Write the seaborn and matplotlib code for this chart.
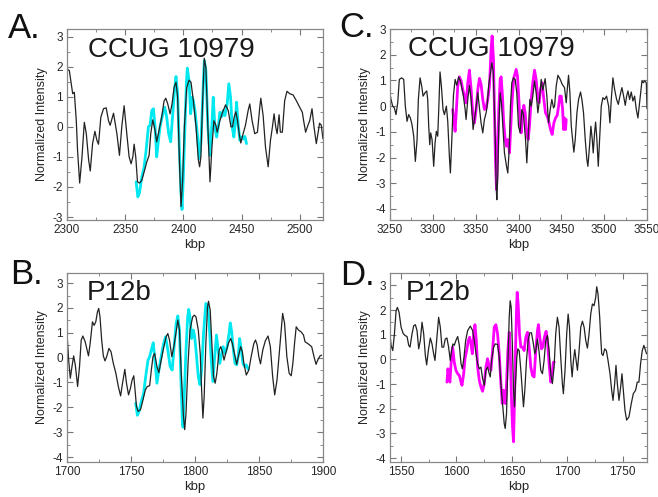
import matplotlib
matplotlib.use("Agg")
import matplotlib.pyplot as plt
from matplotlib.ticker import MultipleLocator
import seaborn as sns

# ---- panel A: CCUG 10979, 2300-2520 kbp (black) and overlay (cyan)
a_kbp = [2300.0, 2302.0, 2303.4, 2304.9, 2306.3, 2308.0, 2309.1, 2310.9, 2312.9, 2314.9,
         2316.6, 2318.6, 2320.0, 2322.0, 2324.0, 2325.7, 2327.1, 2329.1, 2331.4, 2333.7,
         2335.7, 2337.1, 2340.0, 2342.9, 2345.1, 2347.1, 2349.1, 2351.4, 2353.4, 2355.1,
         2356.6, 2357.7, 2359.1, 2360.6, 2362.3, 2364.3, 2366.3, 2368.6, 2370.6, 2372.0,
         2373.7, 2375.7, 2377.1, 2379.1, 2381.4, 2383.4, 2384.9, 2386.6, 2388.6, 2390.3,
         2392.0, 2393.7, 2395.1, 2396.6, 2398.0, 2399.4, 2400.9, 2402.9, 2404.9, 2406.6,
         2408.6, 2410.9, 2412.9, 2414.0, 2415.1, 2416.6, 2418.0, 2419.4, 2421.1, 2422.9,
         2424.6, 2426.3, 2428.0, 2429.1, 2431.4, 2433.7, 2436.3, 2438.6, 2440.9, 2442.3,
         2443.7, 2445.1, 2446.6, 2448.0, 2449.4, 2451.4, 2453.4, 2455.7, 2457.1, 2459.1,
         2461.4, 2463.7, 2465.7, 2466.6, 2468.6, 2470.6, 2472.9, 2474.9, 2476.6, 2478.0,
         2479.4, 2480.6, 2482.3, 2483.4, 2485.1, 2487.1, 2489.1, 2491.4, 2494.3, 2497.1,
         2500.0, 2502.3, 2503.4, 2505.1, 2507.1, 2508.6, 2510.6, 2512.3, 2514.3, 2515.7,
         2517.1, 2518.6, 2520.0]
a_norm = [1.92, 1.87, 1.5, 1.1, 1.15, 0.2, -0.8, -1.87, -1.0, 0.15,
          -0.23, -1.1, -1.47, -0.56, -0.15, -0.45, -0.58, 0.32, 0.6, 0.63,
          0.2, 0.05, 0.45, -0.23, -0.95, 0.0, 0.7, -0.23, -1.0, -1.23,
          -1.0, -0.58, -1.0, -1.83, -1.87, -1.78, -1.5, -1.17, -0.95, -0.23,
          0.23, -0.12, -0.5, -0.12, 0.32, 0.85, 0.95, 0.76, 0.43, 0.76,
          1.3, 1.48, 0.98, -1.1, -2.65, -1.78, 0.0, 1.3, 1.55, 1.48,
          0.87, 0.0, -1.1, -1.33, -1.0, 0.87, 2.28, 1.97, 0.0, -1.83,
          -0.67, 0.2, 0.05, -0.18, 0.2, 0.48, 0.73, 0.54, 0.0, 0.0,
          0.32, 0.5, 0.2, -0.23, -0.54, -0.23, 0.05, 0.54, 0.76, 0.2,
          -0.23, -0.18, 0.65, 0.95, 0.37, -0.67, -1.33, -0.45, 0.0, 0.43,
          0.0, -0.23, 0.4, -0.18, -0.18, 0.87, 1.18, 1.1, 1.06, 0.87,
          0.65, 0.48, 0.2, -0.18, 0.05, 0.2, 0.6, 0.0, -0.56, -0.23,
          0.12, 0.05, -0.4]
a_ovl_kbp = [2359.4, 2360.9, 2362.3, 2364.3, 2366.3, 2368.0, 2370.0, 2371.4, 2372.9, 2374.3,
             2375.7, 2377.1, 2378.6, 2380.0, 2382.0, 2384.0, 2385.7, 2387.4, 2389.1, 2390.9,
             2392.6, 2393.7, 2395.1, 2396.6, 2398.0, 2398.9, 2400.0, 2401.4, 2402.6, 2403.4,
             2404.9, 2406.3, 2407.7, 2408.6, 2410.0, 2412.0, 2413.7, 2415.1, 2416.6, 2418.0,
             2419.4, 2421.1, 2422.9, 2424.6, 2425.7, 2427.1, 2428.6, 2430.0, 2431.4, 2433.1,
             2434.3, 2435.7, 2437.7, 2439.1, 2440.6, 2442.0, 2443.4, 2444.9, 2445.7, 2447.1,
             2448.6, 2450.0, 2451.4, 2452.9, 2454.3]
a_ovl_norm = [-1.83, -2.33, -2.2, -1.67, -1.34, -0.78, 0.0, 0.05, 0.54, 0.6,
              0.0, -1.0, -0.45, 0.0, 0.37, 0.65, 0.32, -0.23, -0.5, 0.43,
              1.3, 1.67, 1.1, -0.78, -2.2, -2.75, -1.67, 0.0, 1.43, 1.95,
              1.54, 0.43, 0.98, 0.87, 0.54, -0.23, -1.06, -0.56, 0.87, 2.2,
              1.87, 0.0, -0.95, 0.1, 0.98, 0.0, -0.34, 0.0, 0.48, 0.34,
              0.54, 0.37, 0.76, 1.43, 0.98, 0.0, -0.34, 0.2, 0.82, 0.1,
              -0.45, -0.34, -0.4, -0.32, -0.56]

# ---- panel B: P12b, 1700-1900 kbp
b_kbp = [1700.0, 1701.3, 1702.6, 1703.9, 1705.2, 1706.5, 1708.3, 1709.8, 1711.1, 1712.4,
         1714.2, 1716.0, 1716.8, 1718.1, 1719.9, 1721.2, 1722.5, 1723.8, 1724.8, 1725.8,
         1727.1, 1728.4, 1729.7, 1731.0, 1732.8, 1734.4, 1736.2, 1738.2, 1740.1, 1741.9,
         1743.4, 1745.2, 1746.5, 1748.1, 1749.6, 1750.9, 1752.2, 1753.2, 1754.3, 1755.6,
         1757.4, 1759.4, 1761.2, 1762.8, 1764.6, 1765.9, 1767.2, 1768.5, 1770.3, 1771.8,
         1773.6, 1775.7, 1777.5, 1778.8, 1780.1, 1781.9, 1783.5, 1785.3, 1786.6, 1787.9,
         1789.4, 1791.0, 1792.0, 1793.0, 1794.6, 1796.1, 1798.2, 1799.5, 1800.8, 1802.6,
         1804.1, 1805.2, 1806.2, 1807.2, 1808.5, 1809.8, 1810.6, 1811.9, 1813.2, 1814.5,
         1815.8, 1817.1, 1818.9, 1820.2, 1821.4, 1822.7, 1824.0, 1826.1, 1827.9, 1829.2,
         1831.3, 1832.6, 1833.9, 1835.7, 1837.0, 1838.2, 1840.1, 1842.1, 1843.9, 1846.0,
         1847.3, 1848.6, 1849.9, 1851.2, 1853.0, 1855.0, 1857.1, 1858.9, 1860.7, 1862.3,
         1864.1, 1866.1, 1868.5, 1870.0, 1871.8, 1873.6, 1875.2, 1876.5, 1877.8, 1879.1,
         1880.9, 1882.9, 1884.8, 1886.0, 1888.6, 1891.2, 1893.0, 1894.6, 1895.9, 1897.7,
         1899.0]
b_norm = [1.0, -0.1, -0.83, -0.36, 0.07, -0.3, -1.16, -0.36, 0.7, 0.87,
          0.64, 0.24, 0.07, 0.57, 1.44, 1.3, 1.44, 1.84, 1.98, 1.64,
          0.71, 0.07, -0.13, 0.04, 0.37, 0.24, -0.23, -0.63, -1.16, -1.54,
          -1.03, -0.47, -1.03, -1.5, -1.23, -0.9, -0.73, -1.3, -1.96, -2.16,
          -2.1, -1.7, -1.3, -1.16, -1.13, -0.5, 0.04, 0.17, -0.36, -0.6,
          -0.1, 0.44, 0.84, 0.97, 0.71, 0.04, 0.44, 1.04, 1.51, 1.11,
          -0.76, -2.36, -2.9, -2.23, -0.23, 1.11, 1.64, 1.71, 1.64, 1.11,
          0.17, -1.3, -2.43, -1.56, 0.57, 2.04, 2.27, 1.91, 0.57, -0.76,
          -1.03, -0.63, 0.31, 0.44, 0.24, -0.1, 0.17, 0.57, 0.77, 0.57,
          0.04, -0.27, 0.04, 0.44, 0.24, -0.23, -0.7, -0.5, 0.04, 0.57,
          0.71, 0.51, 0.04, -0.25, 0.31, 0.68, 0.87, 0.44, -0.76, -1.5,
          -0.9, 0.31, 1.78, 1.38, 0.04, -0.63, -0.73, -0.23, 0.57, 1.24,
          1.11, 1.04, 0.91, 0.64, 0.55, 0.44, 0.04, -0.27, -0.1, 0.07,
          0.1]
b_ovl_kbp = [1753.7, 1755.0, 1756.3, 1758.1, 1759.9, 1761.5, 1763.3, 1764.6, 1765.9, 1767.4,
             1768.7, 1770.3, 1771.8, 1773.6, 1775.5, 1777.0, 1778.8, 1780.6, 1782.2, 1783.5,
             1785.3, 1786.6, 1787.9, 1789.1, 1790.2, 1790.7, 1791.7, 1793.0, 1794.3, 1795.1,
             1796.1, 1797.4, 1798.7, 1799.7, 1800.8, 1802.6, 1803.9, 1805.2, 1806.7, 1808.5,
             1809.8, 1811.1, 1812.7, 1814.0, 1815.2, 1816.8, 1818.1, 1819.4, 1820.9, 1822.0,
             1823.5, 1825.1, 1826.6, 1827.6, 1828.7, 1830.0, 1831.3, 1832.6, 1833.9, 1834.9,
             1836.2, 1837.5, 1838.8, 1840.1, 1841.6]
b_ovl_norm = [-1.83, -2.32, -2.16, -1.76, -1.43, -0.76, -0.1, 0.04, 0.31, 0.6,
              -0.1, -1.03, -0.5, 0.04, 0.57, 0.84, 0.31, -0.36, -0.5, 0.31,
              1.38, 1.68, 1.11, -1.03, -2.63, -2.8, -1.43, 0.31, 1.64, 1.94,
              1.64, 0.77, 1.11, 0.87, 0.31, -0.76, -1.09, -0.5, 0.97, 2.18,
              2.11, 1.38, -0.1, -0.96, -0.1, 0.91, 0.31, -0.23, 0.17, 0.44,
              0.17, 0.44, 0.97, 1.4, 1.04, 0.31, -0.23, -0.29, 0.1, 0.77,
              0.31, -0.23, -0.36, -0.29, -0.47]

# ---- panel C: CCUG 10979, 3250-3550 kbp (black) and overlay (magenta)
c_kbp = [3250.0, 3251.2, 3253.1, 3255.1, 3257.0, 3259.0, 3260.9, 3263.6, 3266.0, 3267.9,
         3269.9, 3271.8, 3273.8, 3275.7, 3277.7, 3279.6, 3281.6, 3283.1, 3285.1, 3287.0,
         3288.6, 3290.9, 3292.9, 3294.0, 3295.2, 3296.4, 3297.5, 3299.1, 3301.0, 3302.6,
         3304.1, 3305.7, 3306.9, 3308.4, 3310.0, 3311.9, 3313.5, 3315.8, 3317.4, 3319.3,
         3320.5, 3322.5, 3324.0, 3326.0, 3327.9, 3330.2, 3332.2, 3333.8, 3335.7, 3337.7,
         3338.8, 3340.8, 3342.7, 3344.7, 3347.0, 3348.6, 3350.5, 3352.5, 3354.4, 3356.3,
         3358.3, 3360.2, 3362.2, 3363.4, 3365.3, 3367.3, 3368.8, 3370.4, 3371.9, 3373.1,
         3373.9, 3374.7, 3375.8, 3377.0, 3378.6, 3380.1, 3381.7, 3383.6, 3386.0, 3387.5,
         3389.1, 3390.6, 3392.2, 3394.1, 3396.1, 3398.0, 3400.0, 3401.9, 3403.9, 3405.8,
         3408.2, 3409.7, 3411.3, 3413.2, 3414.8, 3416.7, 3418.7, 3420.6, 3422.6, 3424.5,
         3426.5, 3428.4, 3431.1, 3433.1, 3435.0, 3437.0, 3438.9, 3440.9, 3442.1, 3444.0,
         3446.0, 3448.7, 3451.0, 3453.7, 3455.7, 3456.9, 3458.4, 3460.0, 3461.6, 3463.5,
         3464.6, 3466.2, 3468.2, 3470.1, 3472.4, 3474.0, 3475.9, 3477.9, 3479.8, 3481.0,
         3482.9, 3484.5, 3486.1, 3487.2, 3488.8, 3490.0, 3491.5, 3493.1, 3494.6, 3496.6,
         3498.5, 3500.5, 3502.8, 3505.2, 3506.7, 3508.3, 3510.2, 3512.2, 3514.5, 3516.5,
         3518.4, 3520.7, 3522.7, 3524.6, 3526.2, 3527.8, 3529.7, 3531.6, 3533.6, 3535.5,
         3537.5, 3539.4, 3541.8, 3544.1, 3545.7, 3547.2, 3549.2, 3550.0]
c_norm = [0.49, 0.26, 0.0, -0.07, -0.33, 0.13, 1.04, 1.1, 1.04, 0.0,
          -0.59, -0.33, -0.46, -0.72, -1.17, -2.15, -1.3, 0.26, 1.1, 0.78,
          0.39, 0.52, 0.59, 0.26, -0.78, -1.5, -1.04, -1.3, -2.34, -1.43,
          -0.98, -1.17, -0.13, 1.33, 0.78, -0.13, -0.33, 0.0, -0.59, -1.95,
          -2.6, -1.04, 0.39, 1.04, 0.81, 1.14, 0.98, 0.72, 0.39, -0.13,
          -0.52, 0.26, 0.81, 0.26, -0.91, -0.52, 0.0, 0.52, -0.07, -0.65,
          -1.04, -0.52, -0.26, 0.0, 0.85, 1.3, 1.69, 1.37, -0.13, -1.56,
          -3.12, -3.64, -2.73, -0.78, 0.52, 0.13, -0.78, -1.82, -2.34, -2.6,
          -1.69, 0.0, 0.91, 1.1, 1.04, 0.52, -0.78, -1.04, -0.13, -0.33,
          -1.3, -2.21, -1.17, 0.26, 0.0, 0.39, 0.98, 0.52, -0.26, 0.26,
          1.04, 0.62, 1.07, 0.39, -0.65, -0.13, 0.26, -0.07, 0.0, 0.78,
          1.2, 1.04, 0.85, 0.72, 0.13, 0.65, 1.2, 0.52, -0.78, -1.43,
          -1.79, -1.3, -0.26, 0.26, 0.55, 0.26, -0.26, -1.3, -2.08, -2.34,
          -1.56, -0.78, -1.3, -1.82, -1.04, -0.62, -1.3, -2.34, -1.3, 0.0,
          0.33, 0.26, 0.39, 0.0, -0.65, 0.26, 1.1, 0.65, 0.26, 0.07,
          0.39, 0.72, 0.39, 0.03, 0.39, 0.59, 0.26, 0.55, 0.2, 0.39,
          -0.13, -0.46, 0.26, 0.98, 0.91, 0.98, 0.91, -0.1]
c_ovl_kbp = [3323.2, 3324.4, 3326.0, 3327.5, 3329.1, 3331.0, 3333.0, 3334.9, 3336.9, 3338.8,
             3340.8, 3342.7, 3344.7, 3346.6, 3348.6, 3350.5, 3352.5, 3354.4, 3356.3, 3358.3,
             3360.2, 3362.2, 3364.1, 3366.1, 3368.0, 3369.2, 3370.8, 3371.9, 3373.1, 3374.3,
             3375.4, 3377.0, 3378.6, 3379.7, 3381.3, 3382.5, 3384.4, 3386.0, 3387.1, 3388.7,
             3389.5, 3391.0, 3392.6, 3394.5, 3397.3, 3398.8, 3400.4, 3401.9, 3403.1, 3404.7,
             3406.2, 3407.8, 3409.7, 3411.3, 3412.8, 3414.8, 3416.7, 3418.7, 3420.6, 3422.6,
             3424.1, 3425.7, 3427.6, 3429.6, 3431.5, 3433.5, 3435.0, 3437.4, 3439.3, 3441.3,
             3443.2, 3445.2, 3446.8, 3448.3, 3449.9, 3451.5, 3452.6, 3453.7, 3454.9, 3455.7]
c_ovl_norm = [-0.13, -0.52, -0.98, -0.13, 0.78, 1.14, 0.98, 0.65, 0.39, 0.13,
              0.91, 1.4, 0.65, -0.26, -0.65, -0.13, 0.65, 1.08, 0.85, 0.26,
              -0.13, -0.07, 0.26, 0.78, 2.21, 2.73, 1.82, -0.13, -2.08, -3.25,
              -2.08, -0.13, 1.04, 1.14, 0.39, -0.52, -1.3, -1.56, -1.3, -1.56,
              -1.82, -0.78, 0.26, 1.1, 1.43, 1.17, 0.26, -0.65, -1.04, -0.39,
              0.03, -0.26, -1.1, -1.3, -0.78, 0.26, 0.91, 1.4, 1.04, 0.26,
              0.13, 0.65, 0.91, 0.26, -0.26, -0.39, -0.55, -0.91, -1.1, -0.65,
              -0.46, -0.36, 0.0, 0.39, 0.39, -0.13, -0.91, -0.46, -0.91, -0.52]

# ---- panel D: P12b, 1540-1772 kbp
d_kbp = [1540.1, 1541.0, 1542.5, 1544.0, 1545.5, 1546.7, 1548.2, 1550.0, 1551.8, 1553.6,
         1555.4, 1556.9, 1558.1, 1559.9, 1561.4, 1562.9, 1564.4, 1565.9, 1567.4, 1568.9,
         1570.4, 1571.9, 1573.1, 1574.6, 1576.4, 1577.9, 1579.4, 1580.6, 1582.1, 1583.9,
         1585.4, 1586.9, 1588.4, 1589.9, 1591.4, 1592.9, 1594.4, 1595.6, 1596.8, 1598.0,
         1599.5, 1601.1, 1602.6, 1604.1, 1605.3, 1606.8, 1608.3, 1610.1, 1612.5, 1614.6,
         1616.1, 1617.6, 1619.1, 1620.6, 1622.1, 1623.6, 1625.1, 1626.6, 1628.1, 1629.6,
         1630.5, 1631.7, 1633.5, 1635.0, 1637.1, 1638.6, 1640.1, 1641.6, 1643.1, 1644.0,
         1645.2, 1646.4, 1647.6, 1648.5, 1649.4, 1650.6, 1651.5, 1652.4, 1653.3, 1654.5,
         1655.4, 1656.6, 1658.1, 1659.6, 1660.5, 1661.7, 1663.2, 1664.7, 1666.2, 1667.7,
         1669.2, 1670.7, 1671.6, 1673.1, 1674.6, 1676.1, 1677.6, 1679.1, 1680.6, 1682.1,
         1683.6, 1685.1, 1686.6, 1688.1, 1689.6, 1691.1, 1692.6, 1694.1, 1695.6, 1696.5,
         1698.0, 1699.5, 1700.8, 1702.0, 1703.2, 1704.4, 1705.6, 1706.8, 1708.0, 1709.2,
         1710.7, 1712.2, 1713.7, 1715.2, 1716.7, 1718.2, 1719.7, 1721.2, 1722.7, 1724.2,
         1725.7, 1726.6, 1727.8, 1729.3, 1730.2, 1731.1, 1732.3, 1733.8, 1735.3, 1736.8,
         1738.6, 1740.1, 1741.3, 1742.8, 1744.0, 1745.2, 1746.7, 1748.2, 1749.4, 1750.6,
         1752.1, 1753.6, 1755.7, 1757.8, 1759.6, 1761.7, 1763.2, 1764.7, 1766.2, 1767.7,
         1769.2, 1771.6]
d_norm = [0.97, 0.57, 0.36, 1.04, 1.98, 2.11, 1.91, 1.31, 1.06, 0.97,
          0.93, 0.57, 0.5, 1.04, 1.37, 1.41, 1.17, 0.43, 0.77, 1.51,
          1.04, 0.16, -0.22, 0.36, 0.87, 0.63, 0.23, -0.04, 0.77, 1.71,
          1.31, 0.5, 0.5, 0.83, 0.87, 0.5, -0.04, 0.36, 0.63, 0.57,
          0.77, 0.93, 0.57, -0.17, -0.38, 0.09, 0.77, 1.17, 1.35, 1.17,
          0.77, 0.23, -0.17, -0.38, -0.31, -0.78, -1.05, -0.44, -0.31, -0.58,
          -0.71, -0.04, 0.5, 0.63, 0.61, 0.09, -0.98, -1.79, -2.6, -2.8,
          -2.19, -0.31, 1.71, 2.38, 2.11, 0.36, -1.25, -1.92, -0.98, 0.09,
          0.43, 0.36, -0.44, -1.39, -1.92, -1.25, -0.04, 0.77, 1.08, 1.08,
          0.7, 0.23, 0.36, 0.83, 0.3, -0.44, -0.58, -0.04, 0.77, 0.97,
          0.36, -0.58, -0.98, -0.31, 1.04, 1.71, 1.31, 0.09, -0.98, -1.39,
          -0.44, 1.04, 1.84, 1.31, -0.04, -0.71, -0.04, 0.4, -0.04, -0.44,
          0.36, 1.31, 1.55, 1.31, 0.77, 0.46, 1.04, 1.84, 2.25, 2.18,
          2.52, 2.95, 2.65, 1.71, 0.9, 0.23, 0.16, 0.43, 0.36, -0.04,
          -0.58, -1.25, -1.66, -0.98, -0.24, -0.98, -1.66, -1.12, -0.58, -1.25,
          -2.06, -2.46, -2.33, -1.79, -1.39, -1.25, -0.92, -0.92, -0.17, 0.36,
          0.57, 0.23]
d_ovl_kbp = [1591.4, 1592.3, 1593.2, 1594.1, 1595.3, 1596.5, 1598.0, 1599.5, 1601.1, 1602.6,
             1604.1, 1605.0, 1606.5, 1607.7, 1609.2, 1610.7, 1611.9, 1613.1, 1614.3, 1615.5,
             1616.7, 1617.9, 1619.1, 1620.6, 1622.1, 1623.6, 1625.1, 1626.6, 1628.1, 1629.6,
             1631.1, 1632.6, 1634.1, 1635.6, 1637.1, 1638.6, 1640.1, 1641.3, 1642.5, 1643.4,
             1644.3, 1645.2, 1646.4, 1647.6, 1648.5, 1649.7, 1650.6, 1651.5, 1652.4, 1653.3,
             1654.2, 1654.8, 1655.7, 1656.9, 1658.1, 1659.6, 1661.1, 1662.6, 1664.1, 1665.6,
             1667.1, 1668.6, 1670.1, 1671.6, 1673.1, 1674.0, 1675.2, 1676.7, 1677.9, 1679.4,
             1680.9, 1682.1, 1683.6, 1685.1, 1686.3, 1687.5, 1688.4]
d_ovl_norm = [-0.92, -0.38, -0.71, -0.92, -0.04, 0.5, -0.11, -0.44, -0.58, -0.65,
              -0.92, -1.05, -0.58, 0.03, 0.36, 0.77, 0.9, 0.63, 0.23, 1.04,
              1.41, 0.77, -0.31, -0.85, -1.12, -1.29, -0.98, -0.31, 0.03, -0.31,
              -0.44, 0.36, 1.31, 1.41, 1.04, 0.23, -0.98, -1.79, -1.25, -1.39,
              -1.79, -0.98, 0.36, 1.1, 0.36, -1.66, -2.73, -3.34, -1.66, 0.36,
              1.98, 2.72, 2.25, 1.04, 0.5, 0.5, 0.36, 0.9, 1.1, 0.5,
              -0.31, -0.65, -0.71, 0.36, 1.17, 1.41, 0.9, 0.43, 0.5, 0.9,
              1.14, 0.77, -0.17, -0.92, -0.58, -0.11, -0.11]

sns.set_style("ticks")
plt.rcParams['font.family'] = ['Liberation Sans', 'DejaVu Sans']
plt.rcParams['axes.unicode_minus'] = False

fig = plt.figure(figsize=(6.58, 4.97), dpi=100)

panels = [
    # letter, name, rect, black x/y, overlay x/y, overlay colour, xlim, ylim, name pos, letter pos
    ("A.", "CCUG 10979", [0.1018, 0.5573, 0.389, 0.3843], a_kbp, a_norm, a_ovl_kbp, a_ovl_norm,
     "#00e8f0", (2300, 2520), (-3.1, 3.25), (0.082, 0.853), (0.012, 0.924)),
    ("C.", "CCUG 10979", [0.5927, 0.5573, 0.3906, 0.3843], c_kbp, c_norm, c_ovl_kbp, c_ovl_norm,
     "#ff00ff", (3250, 3550), (-4.43, 3.0), (0.07, 0.858), (0.515, 0.926)),
    ("B.", "P12b", [0.1018, 0.0704, 0.389, 0.380], b_kbp, b_norm, b_ovl_kbp, b_ovl_norm,
     "#00e8f0", (1700, 1900), (-4.2, 3.4), (0.078, 0.857), (0.015, 0.428)),
    ("D.", "P12b", [0.5927, 0.0704, 0.3906, 0.380], d_kbp, d_norm, d_ovl_kbp, d_ovl_norm,
     "#ff00ff", (1540, 1772), (-4.16, 3.5), (0.062, 0.857), (0.517, 0.426)),
]

for letter, name, rect, kx, ky, ox, oy, ocol, xl, yl, npos, lpos in panels:
    ax = fig.add_axes(rect)
    sns.lineplot(x=ox, y=oy, ax=ax, color=ocol, lw=2.0, estimator=None, sort=False)
    sns.lineplot(x=kx, y=ky, ax=ax, color="#222222", lw=0.9, estimator=None, sort=False)
    ax.set_xlim(*xl)
    ax.set_ylim(*yl)
    ax.xaxis.set_major_locator(MultipleLocator(50))
    ax.xaxis.set_minor_locator(MultipleLocator(25))
    ax.yaxis.set_major_locator(MultipleLocator(1))
    ax.yaxis.set_minor_locator(MultipleLocator(0.5))
    ax.tick_params(which="both", direction="in", top=True, right=True,
                   color="#777777", labelsize=8.5, pad=3)
    ax.tick_params(which="major", length=4)
    ax.tick_params(which="minor", length=2.5)
    for sp in ax.spines.values():
        sp.set_color("#888888")
        sp.set_linewidth(0.9)
    ax.set_xlabel("kbp", fontsize=9.5, labelpad=2)
    ax.set_ylabel("Normalized Intensity", fontsize=9, labelpad=3)
    ax.text(npos[0], npos[1], name, transform=ax.transAxes, fontsize=20,
            color="#1a1a1a", va="baseline", ha="left")
    fig.text(lpos[0], lpos[1], letter, fontsize=25, color="#111111",
             va="baseline", ha="left")

fig.savefig("out.png", dpi=100)
